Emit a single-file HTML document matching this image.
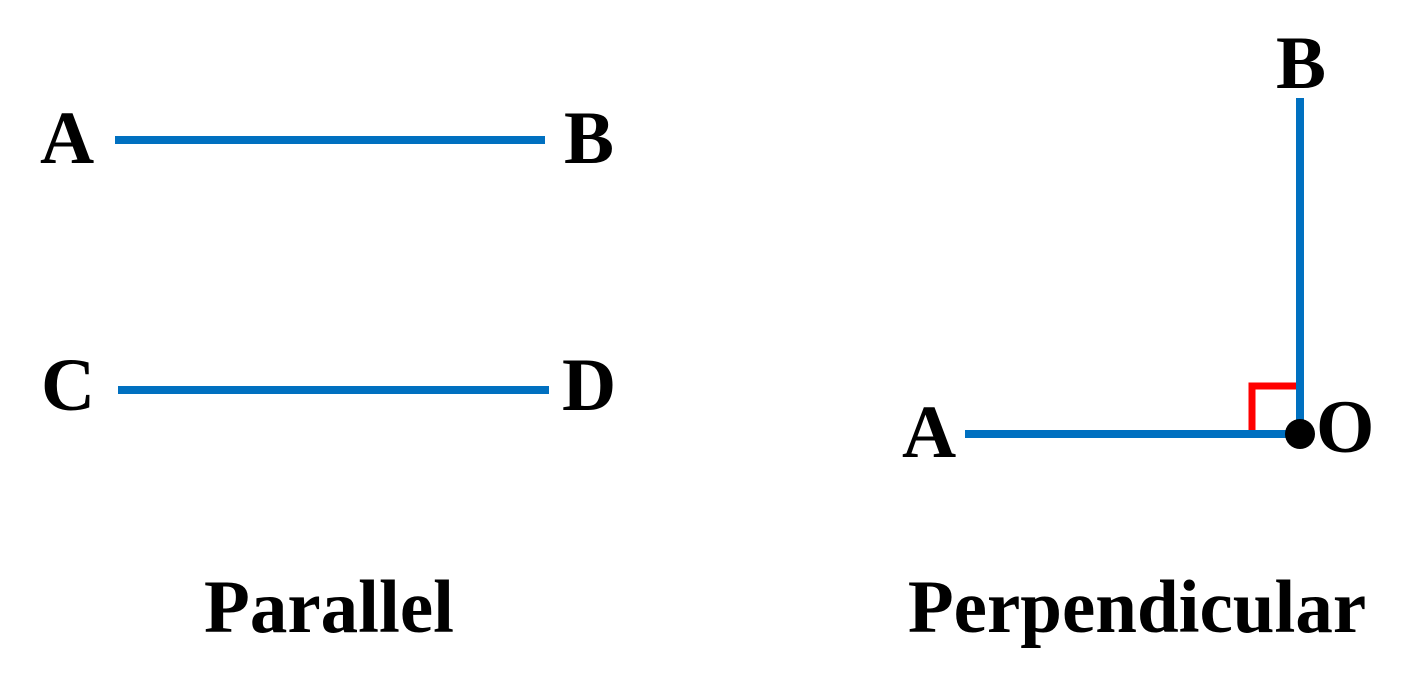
<!DOCTYPE html>
<html>
<head>
<meta charset="utf-8">
<style>
html,body{margin:0;padding:0;background:#fff;}
svg{display:block;}
text{font-family:"Liberation Serif",serif;font-weight:bold;fill:#000;}
</style>
</head>
<body>
<svg width="1416" height="688" viewBox="0 0 1416 688">
  <g>
    <line x1="115" y1="140" x2="545" y2="140" stroke="#0070C0" stroke-width="8"/>
    <line x1="118" y1="390" x2="549" y2="390" stroke="#0070C0" stroke-width="8"/>
    <text x="40" y="163" font-size="75">A</text>
    <text x="564" y="163" font-size="75">B</text>
    <text x="41" y="410" font-size="75">C</text>
    <text x="562" y="410" font-size="75">D</text>
    <text x="329" y="632" font-size="75" text-anchor="middle">Parallel</text>
  </g>
  <g>
    <polyline points="1252,432 1252,386 1297,386" fill="none" stroke="#FF0000" stroke-width="7"/>
    <line x1="965" y1="434" x2="1300" y2="434" stroke="#0070C0" stroke-width="8"/>
    <line x1="1300" y1="98" x2="1300" y2="434" stroke="#0070C0" stroke-width="8"/>
    <circle cx="1300" cy="434" r="15" fill="#000"/>
    <text x="1276" y="88" font-size="75">B</text>
    <text x="902" y="457" font-size="75">A</text>
    <text x="1316" y="452" font-size="75">O</text>
    <text x="1137" y="632" font-size="75" text-anchor="middle">Perpendicular</text>
  </g>
</svg>
</body>
</html>
